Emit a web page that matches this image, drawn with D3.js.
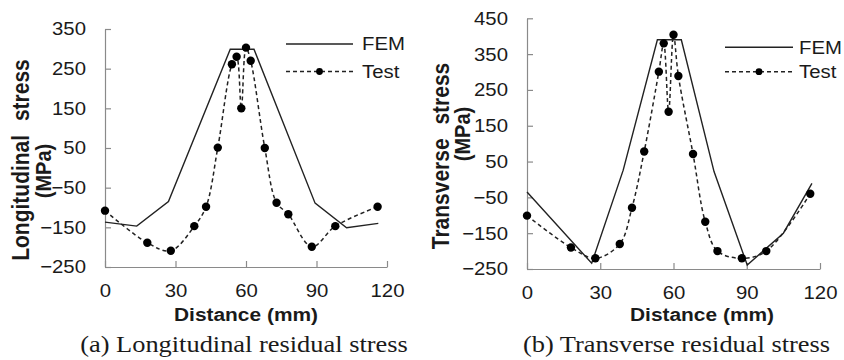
<!DOCTYPE html>
<html>
<head>
<meta charset="utf-8">
<script src="https://cdn.jsdelivr.net/npm/d3@7"></script>
<style>
  html, body { margin: 0; padding: 0; background: #fff; }
  svg { display: block; }
  text { fill: #1a1a1a; }
</style>
</head>
<body>
<svg id="chart" width="844" height="360"></svg>
<script>
// Measurement positions along the plate (mm)
const testDistance = [0, 18, 28, 38, 43, 48, 54, 56, 58, 60, 62, 68, 73, 78, 88, 98, 116];

// Longitudinal residual stress (MPa)
const longTest = [-108, -189, -209, -147, -98, 51, 261, 280, 150, 303, 270, 50, -88, -117, -199, -147, -98];
const longFemDistance = [0, 13.5, 27, 53.3, 63.4, 89.4, 102.8, 116.3];
const longFem = [-137, -147, -85, 299, 299, -89, -151, -140];

// Transverse residual stress (MPa)
const transTest = [-101, -190, -220, -180, -79, 78, 301, 380, 189, 404, 289, 71, -118, -200, -220, -200, -40];
const transFemDistance = [0, 26.5, 39.4, 53.4, 63.2, 76.6, 90.2, 105, 116.7];
const transFem = [-35, -234, 26, 390, 390, 22, -239, -150, -11];

// Axis ticks
const xTicks = [0, 30, 60, 90, 120];
const longTicks = [350, 250, 150, 50, -50, -150, -250];
const transTicks = [450, 350, 250, 150, 50, -50, -150, -250];

const seriesNames = ["FEM", "Test"];
const captions = ["(a) Longitudinal residual stress", "(b) Transverse residual stress"];
const yTitles = [["Longitudinal", "stress", "(MPa)"], ["Transverse", "stress", "(MPa)"]];
const xTitle = "Distance (mm)";

const SANS = "'Liberation Sans', Arial, sans-serif";
const SERIF = "'Liberation Serif', 'Times New Roman', serif";
const STRETCH = 1.1;
const INK = "#1a1a1a";
const AXIS = "#8a8a8a";

const svg = d3.select("#chart");

function panel(cfg) {
  const g = svg.append("g");
  const x = d3.scaleLinear().domain([0, 120]).range(cfg.xRange);
  const y = d3.scaleLinear().domain(cfg.yDomain).range(cfg.yRange);

  // Y axis (ticks inside)
  const ya = g.append("g")
    .attr("transform", `translate(${cfg.xRange[0]},0)`)
    .call(d3.axisLeft(y).tickValues(cfg.yTicks).tickSizeInner(-6).tickSizeOuter(0).tickPadding(19));
  // X axis (ticks inside)
  const xa = g.append("g")
    .attr("transform", `translate(0,${cfg.yRange[0]})`)
    .call(d3.axisBottom(x).tickValues(xTicks).tickSizeInner(-6).tickSizeOuter(0).tickPadding(17));

  [ya, xa].forEach(a => {
    a.select(".domain").attr("stroke", AXIS).attr("stroke-width", 1.2);
    a.selectAll(".tick line").attr("stroke", AXIS).attr("stroke-width", 1.2);
    a.selectAll(".tick text")
      .attr("fill", INK)
      .style("font-family", SANS)
      .style("font-size", "18.5px");
  });
  ya.selectAll(".tick text")
    .attr("x", -19 / STRETCH)
    .attr("transform", `scale(${STRETCH},1)`);
  xa.selectAll(".tick text")
    .attr("transform", `scale(${STRETCH},1)`);

  // FEM: straight segments
  const femLine = d3.line().x(d => x(d[0])).y(d => y(d[1]));
  g.append("path")
    .datum(cfg.femX.map((d, i) => [d, cfg.femY[i]]))
    .attr("d", femLine)
    .attr("fill", "none")
    .attr("stroke", "#222")
    .attr("stroke-width", 1.4);

  // Test: smoothed dashed line with markers
  const testPts = testDistance.map((d, i) => [d, cfg.testY[i]]);
  const testLine = d3.line().x(d => x(d[0])).y(d => y(d[1])).curve(d3.curveCatmullRom.alpha(0.5));
  g.append("path")
    .datum(testPts)
    .attr("d", testLine)
    .attr("fill", "none")
    .attr("stroke", "#222")
    .attr("stroke-width", 1.5)
    .attr("stroke-dasharray", "4,3");
  g.selectAll("circle.test")
    .data(testPts)
    .join("circle")
    .attr("class", "test")
    .attr("cx", d => x(d[0]))
    .attr("cy", d => y(d[1]))
    .attr("r", 4.2)
    .attr("fill", "#000");

  // Legend
  const lg = g.append("g");
  const [lx0, lx1] = cfg.legendLine;
  lg.append("line").attr("x1", lx0).attr("x2", lx1).attr("y1", cfg.legendY[0]).attr("y2", cfg.legendY[0])
    .attr("stroke", "#222").attr("stroke-width", 1.4);
  lg.append("line").attr("x1", lx0).attr("x2", lx1).attr("y1", cfg.legendY[1]).attr("y2", cfg.legendY[1])
    .attr("stroke", "#222").attr("stroke-width", 1.5).attr("stroke-dasharray", "4,3");
  lg.append("circle").attr("cx", (lx0 + lx1) / 2).attr("cy", cfg.legendY[1]).attr("r", 3.4).attr("fill", "#000");
  seriesNames.forEach((name, i) => {
    lg.append("text")
      .attr("transform", `translate(${cfg.legendText},${cfg.legendY[i]}) scale(${STRETCH},1)`)
      .attr("dy", "0.35em")
      .style("font-family", SANS)
      .style("font-size", "18.5px")
      .text(name);
  });

  // X title
  g.append("text")
    .attr("transform", `translate(${cfg.xTitleX},321) scale(${STRETCH},1)`)
    .attr("text-anchor", "middle")
    .style("font-family", SANS)
    .style("font-size", "19px")
    .style("font-weight", "bold")
    .text(xTitle);

  // Y title (two rotated lines)
  const t = cfg.yTitle;
  g.append("text")
    .attr("transform", `translate(${cfg.yTitleX[0]},${cfg.yTitleY[0]}) rotate(-90) scale(1,${STRETCH})`)
    .attr("text-anchor", "middle")
    .style("font-family", SANS)
    .style("font-size", "21px")
    .style("font-weight", "bold")
    .style("word-spacing", cfg.wordGap + "px")
    .text(t[0] + " " + t[1]);
  g.append("text")
    .attr("transform", `translate(${cfg.yTitleX[1]},${cfg.yTitleY[1]}) rotate(-90) scale(1,${STRETCH})`)
    .attr("text-anchor", "middle")
    .style("font-family", SANS)
    .style("font-size", "20px")
    .style("font-weight", "bold")
    .text(t[2]);

  // Caption
  g.append("text")
    .attr("transform", `translate(${cfg.captionX},352) scale(${STRETCH},1)`)
    .attr("text-anchor", "middle")
    .style("font-family", SERIF)
    .style("font-size", "24px")
    .text(cfg.caption);
}

panel({
  xRange: [105, 387],
  yDomain: [-250, 350], yRange: [267, 29],
  yTicks: longTicks,
  femX: longFemDistance, femY: longFem,
  testY: longTest,
  legendLine: [286, 353], legendY: [44, 71.5], legendText: 362,
  xTitleX: 246,
  yTitle: yTitles[0], yTitleX: [29, 51], yTitleY: [160, 171], wordGap: 8,
  captionX: 244,
  caption: captions[0]
});

panel({
  xRange: [527, 820],
  yDomain: [-250, 450], yRange: [269, 18.3],
  yTicks: transTicks,
  femX: transFemDistance, femY: transFem,
  testY: transTest,
  legendLine: [725, 793], legendY: [47.3, 71.7], legendText: 799,
  xTitleX: 702,
  yTitle: yTitles[1], yTitleX: [449, 470], yTitleY: [156, 134], wordGap: 8,
  captionX: 676.5,
  caption: captions[1]
});
</script>
</body>
</html>
